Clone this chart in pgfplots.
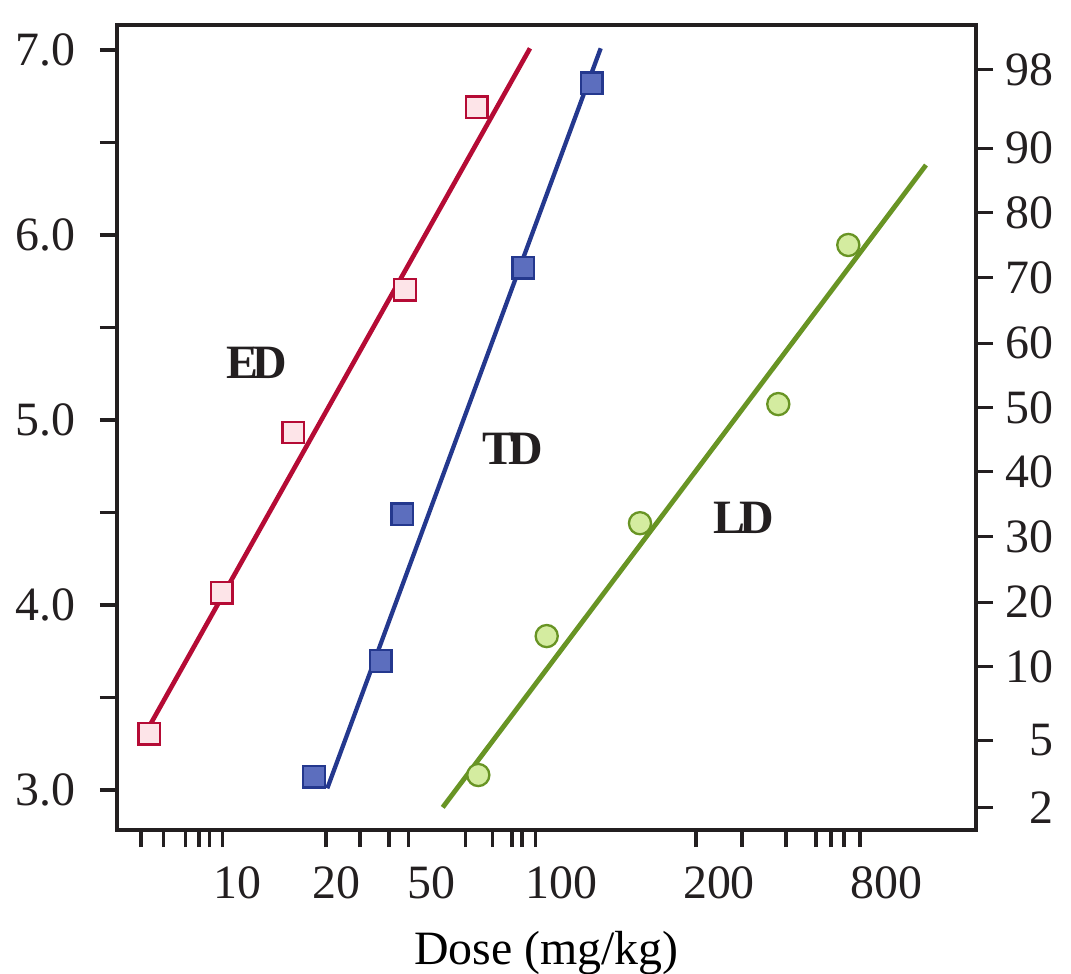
\documentclass[border=0pt]{standalone}
\usepackage{fontspec}
\setmainfont{Liberation Serif}
\usepackage{pgfplots}
\pgfplotsset{compat=1.18}

\definecolor{framecol}{RGB}{35,31,32}
\definecolor{edred}{RGB}{181,11,53}
\definecolor{edpink}{RGB}{253,228,232}
\definecolor{tdblue}{RGB}{36,56,142}
\definecolor{tdfill}{RGB}{92,110,190}
\definecolor{ldgreen}{RGB}{104,148,36}
\definecolor{ldfill}{RGB}{212,236,160}

% x runs along the drawn (non-uniform) dose scale, y is the probit
\pgfplotsset{
  probit/.style={
    scale only axis, width=240.52pt, height=225.4pt,
    xmin=117, xmax=976, ymin=2.7838, ymax=7.1351,
    font=\fontsize{13.4}{16}\selectfont,
    axis line style={line width=1.25pt, framecol},
    tick align=outside, major tick length=4.8pt,
    every tick/.style={line width=0.85pt, framecol},
    tick label style={inner sep=0pt, framecol},
  },
}
\tikzset{curvelabel/.style={font=\fontsize{13.4}{16}\selectfont\bfseries, framecol}}

\begin{document}
\begin{tikzpicture}
\begin{axis}[name=main, probit,
  xtick pos=left, ytick pos=left,
  xtick={141,163.3,185.7,199,209.3,222.7,326,360,389,408.3,
         465.7,492.3,512,522,535.3,696,742,786,816,831,844,860},
  xticklabels={},
  extra x ticks={237.5,336.7,431.7,561.7,719,886.7},
  extra x tick labels={10,20,50,100,200,800},
  extra x tick style={major tick length=0pt,
    xticklabel style={anchor=north, yshift=-10.08pt}},
  ytick={3,3.5,4,4.5,5,5.5,6,6.5,7},
  yticklabels={3.0,,4.0,,5.0,,6.0,,7.0},
  yticklabel style={anchor=east, xshift=-6.68pt},
  xlabel={Dose (mg/kg)},
  xlabel style={at={(axis description cs:0.5,0)}, anchor=base,
    yshift=-37.8pt, inner sep=0pt},
]
% fitted lines
\addplot[edred, line width=1.3pt] coordinates {(145,3.303) (530,7.009)};
\addplot[tdblue, line width=1.2pt] coordinates {(327.3,3.009) (600.7,7.009)};
\addplot[ldgreen, line width=1.35pt] coordinates {(442.7,2.906) (926,6.378)};
% ED
\addplot[only marks, mark=square*, mark size=3pt,
  mark options={draw=edred, fill=edpink, line width=0.65pt}] coordinates
  {(149.3,3.303) (221.7,4.066) (293.3,4.933) (405,5.703) (476.7,6.690)};
% TD
\addplot[only marks, mark=square*, mark size=3pt,
  mark options={draw=tdblue, fill=tdfill, line width=0.65pt}] coordinates
  {(314,3.072) (380.7,3.697) (402.3,4.490) (523.3,5.823) (591.7,6.820)};
% LD
\addplot[only marks, mark=*, mark size=3.1pt,
  mark options={draw=ldgreen, fill=ldfill, line width=0.65pt}] coordinates
  {(478.3,3.081) (546.7,3.832) (640,4.442) (778.3,5.086) (848.3,5.946)};
\node[curvelabel] at (axis cs:257,5.308) {E\kern-0.12em D};
\node[curvelabel] at (axis cs:513,4.843) {T\kern-0.12em D};
\node[curvelabel] at (axis cs:744,4.470) {L\kern-0.12em D};
\end{axis}
% right-hand percentage scale
\begin{axis}[probit,
  xtick=\empty, ytick pos=right,
  ytick={2.903,3.270,3.665,4.016,4.368,4.719,5.065,5.416,5.768,6.119,6.470,6.892},
  yticklabels={2,5,10,20,30,40,50,60,70,80,90,98},
  yticklabel style={anchor=east, xshift=17.04pt},
]
\end{axis}
\pgfresetboundingbox
\path[use as bounding box] ([shift={(-32.76pt,-40.32pt)}]main.south west)
  rectangle ([shift={(267.12pt,232.4pt)}]main.south west);
\end{tikzpicture}
\end{document}
